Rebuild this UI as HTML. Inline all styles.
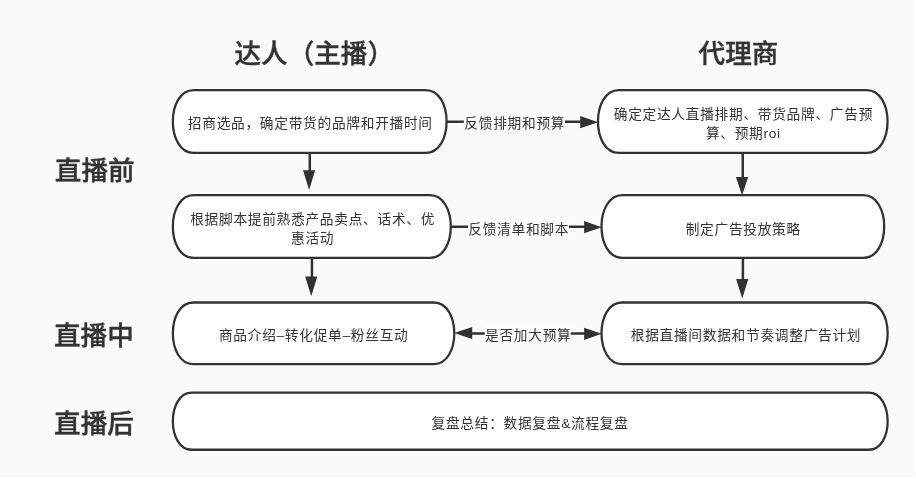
<!DOCTYPE html>
<html lang="zh-CN">
<head>
<meta charset="utf-8">
<title>直播带货流程</title>
<style>
html,body{margin:0;padding:0;background:#fff;}
body{width:916px;height:479px;overflow:hidden;position:relative;}
#cv{position:absolute;left:0;top:0;width:915px;height:477.5px;background:#fafafa;overflow:hidden;}
svg{position:absolute;left:0;top:0;}
#tx{position:absolute;left:0;top:0;width:916px;height:479px;will-change:transform;}
svg line{stroke:#323232;stroke-width:2.5;fill:none;}
svg polygon{fill:#323232;stroke:none;}
svg .bx{fill:#fff;stroke:#323232;stroke-width:2.28;}
svg .lb{fill:#fdfdfd;}
.p,.t{position:absolute;width:0;height:0;overflow:visible;white-space:nowrap;color:#333;
  font-family:"Liberation Sans","Noto Sans CJK SC",sans-serif;}
.p span,.t span{position:absolute;left:0;top:0;transform:translateX(-50%);text-align:center;display:block;}
.p{font-size:13.7px;letter-spacing:0.72px;line-height:18.3px;font-weight:400;}
.t{font-size:26.6px;line-height:38px;font-weight:500;-webkit-text-stroke:0.4px #333;}
</style>
</head>
<body>
<div id="cv">
<svg width="916" height="479" viewBox="0 0 916 479">
<line x1="309.8" y1="152.9" x2="309.8" y2="171.2" />
<polygon points="303.00,170.2 315.20,170.2 309.10,190.1" />
<line x1="311.95" y1="257.95" x2="311.95" y2="277.4" />
<polygon points="305.15,276.4 317.35,276.4 311.25,296.3" />
<line x1="742.75" y1="152.9" x2="742.75" y2="178.1" />
<polygon points="735.95,177.1 748.15,177.1 742.05,195.6" />
<line x1="742.9" y1="257.95" x2="742.9" y2="280.1" />
<polygon points="736.10,279.1 748.30,279.1 742.20,298.4" />
<line x1="446.6" y1="121.7" x2="581.2" y2="121.7" />
<polygon points="580.2,116.05 580.2,128.25 598.2,122.15" />
<line x1="450.8" y1="226.75" x2="585.1" y2="226.75" />
<polygon points="584.1,221.10 584.1,233.30 601.7,227.20" />
<line x1="472.0" y1="333.4" x2="585.1" y2="333.4" />
<polygon points="584.1,327.75 584.1,339.95 601.7,333.85" />
<polygon points="472.2,326.90 472.2,339.10 454.1,333.00" />
<path class="bx" d="M193.77,90.15 L425.68,90.15 C453.57,90.15 453.57,152.90 425.68,152.90 L193.77,152.90 C165.88,152.90 165.88,90.15 193.77,90.15 Z" />
<path class="bx" d="M193.78,195.15 L429.87,195.15 C457.78,195.15 457.78,257.95 429.87,257.95 L193.78,257.95 C165.87,257.95 165.87,195.15 193.78,195.15 Z" />
<path class="bx" d="M193.40,302.50 L433.75,302.50 C461.15,302.50 461.15,364.15 433.75,364.15 L193.40,364.15 C166.00,364.15 166.00,302.50 193.40,302.50 Z" />
<path class="bx" d="M191.88,392.65 L868.62,392.65 C893.99,392.65 893.99,449.75 868.62,449.75 L191.88,449.75 C166.51,449.75 166.51,392.65 191.88,392.65 Z" />
<path class="bx" d="M618.92,90.15 L866.63,90.15 C894.52,90.15 894.52,152.90 866.63,152.90 L618.92,152.90 C591.03,152.90 591.03,90.15 618.92,90.15 Z" />
<path class="bx" d="M622.43,195.15 L863.27,195.15 C891.18,195.15 891.18,257.95 863.27,257.95 L622.43,257.95 C594.52,257.95 594.52,195.15 622.43,195.15 Z" />
<path class="bx" d="M622.05,302.50 L867.10,302.50 C894.50,302.50 894.50,364.15 867.10,364.15 L622.05,364.15 C594.65,364.15 594.65,302.50 622.05,302.50 Z" />
<rect class="lb" x="463.9" y="112.2" width="100.90" height="18.00" />
<rect class="lb" x="468.0" y="217.4" width="100.90" height="18.20" />
<rect class="lb" x="484.8" y="324.5" width="85.90" height="17.80" />
</svg>
<div id="tx">
<div class="t" style="left:314.25px;top:34.50px"><span>达人（主播）</span></div>
<div class="t" style="left:738.50px;top:34.70px"><span>代理商</span></div>
<div class="t" style="left:94.70px;top:152.10px"><span>直播前</span></div>
<div class="t" style="left:93.90px;top:317.20px"><span>直播中</span></div>
<div class="t" style="left:94.00px;top:404.90px"><span>直播后</span></div>
<div class="p" style="left:310.30px;top:115.45px"><span>招商选品，确定带货的品牌和开播时间</span></div>
<div class="p" style="left:312.65px;top:211.40px"><span>根据脚本提前熟悉产品卖点、话术、优<br>惠活动</span></div>
<div class="p" style="left:313.70px;top:326.70px"><span>商品介绍–转化促单–粉丝互动</span></div>
<div class="p" style="left:530.10px;top:415.15px"><span>复盘总结：数据复盘&amp;流程复盘</span></div>
<div class="p" style="left:743.40px;top:106.40px"><span>确定定达人直播排期、带货品牌、广告预<br>算、预期roi</span></div>
<div class="p" style="left:743.30px;top:220.55px"><span>制定广告投放策略</span></div>
<div class="p" style="left:746.00px;top:326.70px"><span>根据直播间数据和节奏调整广告计划</span></div>
<div class="p" style="left:514.80px;top:115.25px"><span>反馈排期和预算</span></div>
<div class="p" style="left:518.70px;top:220.55px"><span>反馈清单和脚本</span></div>
<div class="p" style="left:528.25px;top:327.45px"><span>是否加大预算</span></div>
</div>
</div>
</body>
</html>
